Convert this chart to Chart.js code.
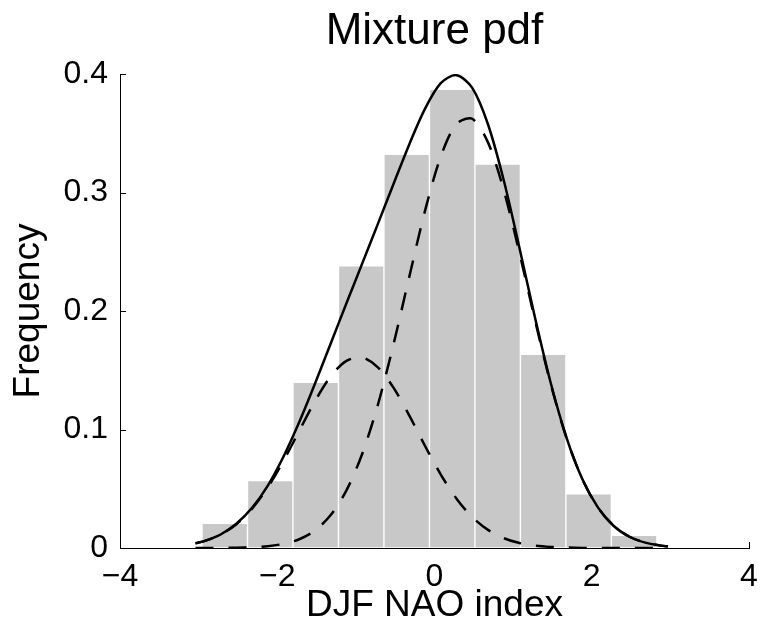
<!DOCTYPE html>
<html>
<head>
<meta charset="utf-8">
<title>Mixture pdf</title>
<script src="https://cdn.jsdelivr.net/npm/chart.js@4.4.1/dist/chart.umd.min.js"></script>
<style>
  html, body { margin: 0; padding: 0; background: #ffffff; }
  #wrap { width: 761px; height: 637px; }
</style>
</head>
<body>
<div id="wrap"><canvas id="chart-mixture"></canvas></div>
<script>
// histogram of the DJF NAO index (bin centres, normalised frequency)
const binCenters = [-2.668, -2.089, -1.511, -0.932, -0.354, 0.225, 0.803, 1.382, 1.960, 2.539];
const binFreq = [0.0208, 0.0568, 0.1398, 0.2382, 0.3322, 0.3871, 0.3240, 0.1634, 0.0458, 0.0107];

// fitted densities, sampled along the index
const curveX = [-3.04, -2.92, -2.72, -2.52, -2.32, -2.12, -1.92, -1.72, -1.52, -1.32, -1.12, -0.92,
  -0.72, -0.52, -0.32, -0.12, 0.08, 0.28, 0.48, 0.68, 0.88, 1.08, 1.28, 1.48, 1.68, 1.88, 2.08,
  2.28, 2.48, 2.68, 2.88, 2.97];
const mixturePdf = [0.0040, 0.0060, 0.0114, 0.0204, 0.0339, 0.0527, 0.0772, 0.1063, 0.1387, 0.1726,
  0.2065, 0.2400, 0.2735, 0.3074, 0.3408, 0.3708, 0.3923, 0.3990, 0.3883, 0.3576, 0.3105, 0.2534,
  0.1938, 0.1388, 0.0930, 0.0582, 0.0341, 0.0186, 0.0095, 0.0045, 0.0020, 0.0014];
const lowComponent = [0.0039, 0.0060, 0.0114, 0.0201, 0.0332, 0.0512, 0.0737, 0.0989, 0.1239, 0.1448,
  0.1579, 0.1607, 0.1525, 0.1351, 0.1117, 0.0861, 0.0620, 0.0416, 0.0261, 0.0153, 0.0083, 0.0042,
  0.0020, 0.0009, 0.0004, 0.0001, 0.0001, 0, 0, 0, 0, 0];
const highComponent = [0, 0, 0.0001, 0.0002, 0.0006, 0.0015, 0.0035, 0.0074, 0.0148, 0.0278,
  0.0486, 0.0793, 0.1209, 0.1722, 0.2291, 0.2847, 0.3303, 0.3579, 0.3622, 0.3423, 0.3022, 0.2491,
  0.1918, 0.1379, 0.0926, 0.0581, 0.0340, 0.0186, 0.0095, 0.0045, 0.0020, 0.0014];

const FONT = '"Liberation Sans", Arial, Helvetica, sans-serif';

function pairs(xs, ys) {
  return xs.map((x, i) => ({ x: x, y: ys[i] }));
}

function fmtX(v) {
  return v < 0 ? "\u2212" + Math.abs(v) : String(v);
}

function fmtY(v) {
  return v === 0 ? "0" : v.toFixed(1);
}

// matlab style ticks pointing into the plot
const inwardTicks = {
  id: "inwardTicks",
  beforeDatasetsDraw(chart) {
    const { ctx, chartArea, scales } = chart;
    ctx.save();
    ctx.strokeStyle = "#000000";
    ctx.lineWidth = 1;
    ctx.beginPath();
    scales.y.ticks.forEach((t) => {
      const py = Math.round(scales.y.getPixelForValue(t.value)) + 0.5;
      ctx.moveTo(chartArea.left, py);
      ctx.lineTo(chartArea.left + 6, py);
    });
    scales.x.ticks.forEach((t) => {
      const px = Math.round(scales.x.getPixelForValue(t.value)) + 0.5;
      ctx.moveTo(px, chartArea.bottom);
      ctx.lineTo(px, chartArea.bottom - 6);
    });
    ctx.stroke();
    ctx.restore();
  },
};

Chart.defaults.font.family = FONT;
Chart.defaults.color = "#000000";

const lineStyle = {
  type: "line",
  borderColor: "#000000",
  borderWidth: 2.5,
  pointRadius: 0,
  tension: 0.3,
  fill: false,
  order: 0,
};

new Chart(document.getElementById("chart-mixture"), {
  type: "bar",
  data: {
    datasets: [
      Object.assign({}, lineStyle, { label: "Mixture", data: pairs(curveX, mixturePdf) }),
      Object.assign({}, lineStyle, { label: "Component 1", data: pairs(curveX, lowComponent), borderDash: [18, 15] }),
      Object.assign({}, lineStyle, { label: "Component 2", data: pairs(curveX, highComponent), borderDash: [18, 15] }),
      {
        type: "bar",
        label: "Histogram",
        data: pairs(binCenters, binFreq),
        backgroundColor: "#c8c8c8",
        borderColor: "#ffffff",
        borderWidth: 1,
        borderSkipped: false,
        barPercentage: 1,
        categoryPercentage: 1,
        order: 1,
      },
    ],
  },
  options: {
    responsive: true,
    maintainAspectRatio: false,
    animation: false,
    devicePixelRatio: 1,
    layout: { padding: { top: 0, right: 12, bottom: 0, left: 0 } },
    scales: {
      x: {
        type: "linear",
        min: -4,
        max: 4,
        offset: false,
        grid: { display: false, drawTicks: false, offset: false },
        border: { display: true, color: "#000000", width: 1 },
        ticks: {
          stepSize: 2,
          padding: 10,
          autoSkip: false,
          maxRotation: 0,
          color: "#000000",
          font: { size: 32 },
          callback: fmtX,
        },
        title: {
          display: true,
          text: "DJF NAO index",
          color: "#000000",
          font: { size: 37 },
          padding: { top: 0, bottom: 9 },
        },
        afterFit(s) {
          s.height = 89;
          s.paddingLeft = 0;
          s.paddingRight = 0;
        },
      },
      y: {
        type: "linear",
        min: 0,
        max: 0.4,
        grid: { display: false, drawTicks: false },
        border: { display: true, color: "#000000", width: 1 },
        ticks: {
          stepSize: 0.1,
          padding: 12,
          color: "#000000",
          font: { size: 32 },
          callback: fmtY,
        },
        title: {
          display: true,
          text: "Frequency",
          color: "#000000",
          font: { size: 37 },
          padding: { top: 7, bottom: 0 },
        },
        afterFit(s) {
          s.width = 120;
          s.paddingTop = 0;
          s.paddingBottom = 0;
        },
      },
    },
    plugins: {
      legend: { display: false },
      tooltip: { enabled: false },
      title: {
        display: true,
        fullSize: false,
        text: "Mixture pdf",
        color: "#000000",
        font: { size: 44, weight: "normal" },
        padding: { top: 5, bottom: 16.2 },
      },
    },
  },
  plugins: [inwardTicks],
});
</script>
</body>
</html>
